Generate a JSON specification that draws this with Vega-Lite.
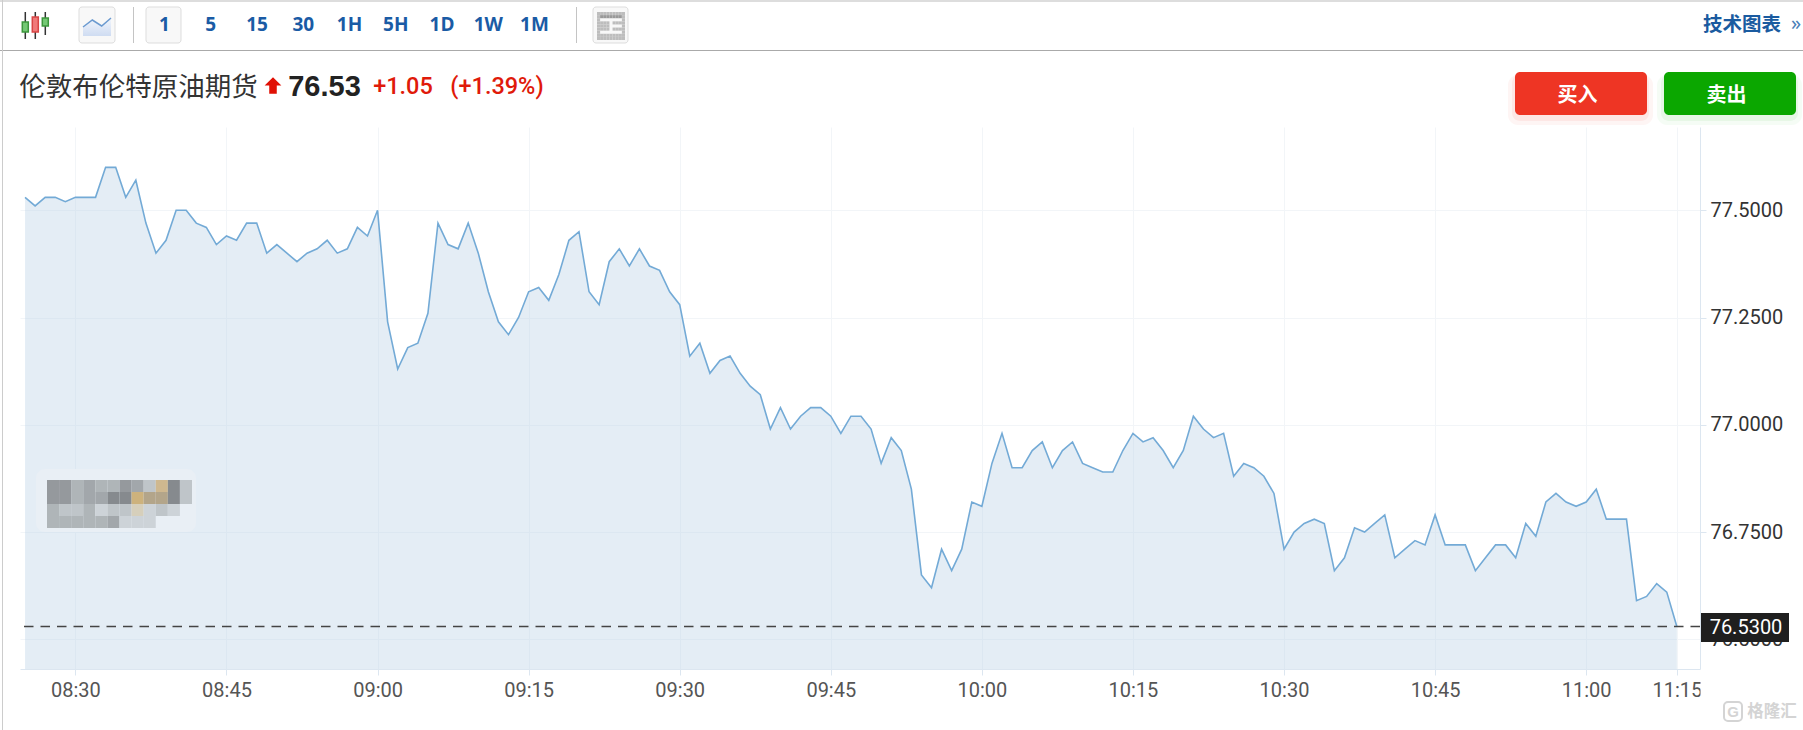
{"$schema":"https://vega.github.io/schema/vega-lite/v6.json","width":1680,"height":542,"autosize":"none","padding":{"left":20,"top":127,"right":103,"bottom":61},"background":"#ffffff","config":{"view":{"stroke":null}},"datasets":{"price":[{"time":"2024-01-01T08:25:00","price":77.53},{"time":"2024-01-01T08:26:00","price":77.51},{"time":"2024-01-01T08:27:00","price":77.53},{"time":"2024-01-01T08:28:00","price":77.53},{"time":"2024-01-01T08:29:00","price":77.52},{"time":"2024-01-01T08:30:00","price":77.53},{"time":"2024-01-01T08:31:00","price":77.53},{"time":"2024-01-01T08:32:00","price":77.53},{"time":"2024-01-01T08:33:00","price":77.6},{"time":"2024-01-01T08:34:00","price":77.6},{"time":"2024-01-01T08:35:00","price":77.53},{"time":"2024-01-01T08:36:00","price":77.57},{"time":"2024-01-01T08:37:00","price":77.47},{"time":"2024-01-01T08:38:00","price":77.4},{"time":"2024-01-01T08:39:00","price":77.43},{"time":"2024-01-01T08:40:00","price":77.5},{"time":"2024-01-01T08:41:00","price":77.5},{"time":"2024-01-01T08:42:00","price":77.47},{"time":"2024-01-01T08:43:00","price":77.46},{"time":"2024-01-01T08:44:00","price":77.42},{"time":"2024-01-01T08:45:00","price":77.44},{"time":"2024-01-01T08:46:00","price":77.43},{"time":"2024-01-01T08:47:00","price":77.47},{"time":"2024-01-01T08:48:00","price":77.47},{"time":"2024-01-01T08:49:00","price":77.4},{"time":"2024-01-01T08:50:00","price":77.42},{"time":"2024-01-01T08:51:00","price":77.4},{"time":"2024-01-01T08:52:00","price":77.38},{"time":"2024-01-01T08:53:00","price":77.4},{"time":"2024-01-01T08:54:00","price":77.41},{"time":"2024-01-01T08:55:00","price":77.43},{"time":"2024-01-01T08:56:00","price":77.4},{"time":"2024-01-01T08:57:00","price":77.41},{"time":"2024-01-01T08:58:00","price":77.46},{"time":"2024-01-01T08:59:00","price":77.44},{"time":"2024-01-01T09:00:00","price":77.5},{"time":"2024-01-01T09:01:00","price":77.24},{"time":"2024-01-01T09:02:00","price":77.13},{"time":"2024-01-01T09:03:00","price":77.18},{"time":"2024-01-01T09:04:00","price":77.19},{"time":"2024-01-01T09:05:00","price":77.26},{"time":"2024-01-01T09:06:00","price":77.47},{"time":"2024-01-01T09:07:00","price":77.42},{"time":"2024-01-01T09:08:00","price":77.41},{"time":"2024-01-01T09:09:00","price":77.47},{"time":"2024-01-01T09:10:00","price":77.4},{"time":"2024-01-01T09:11:00","price":77.31},{"time":"2024-01-01T09:12:00","price":77.24},{"time":"2024-01-01T09:13:00","price":77.21},{"time":"2024-01-01T09:14:00","price":77.25},{"time":"2024-01-01T09:15:00","price":77.31},{"time":"2024-01-01T09:16:00","price":77.32},{"time":"2024-01-01T09:17:00","price":77.29},{"time":"2024-01-01T09:18:00","price":77.35},{"time":"2024-01-01T09:19:00","price":77.43},{"time":"2024-01-01T09:20:00","price":77.45},{"time":"2024-01-01T09:21:00","price":77.31},{"time":"2024-01-01T09:22:00","price":77.28},{"time":"2024-01-01T09:23:00","price":77.38},{"time":"2024-01-01T09:24:00","price":77.41},{"time":"2024-01-01T09:25:00","price":77.37},{"time":"2024-01-01T09:26:00","price":77.41},{"time":"2024-01-01T09:27:00","price":77.37},{"time":"2024-01-01T09:28:00","price":77.36},{"time":"2024-01-01T09:29:00","price":77.31},{"time":"2024-01-01T09:30:00","price":77.28},{"time":"2024-01-01T09:31:00","price":77.16},{"time":"2024-01-01T09:32:00","price":77.19},{"time":"2024-01-01T09:33:00","price":77.12},{"time":"2024-01-01T09:34:00","price":77.15},{"time":"2024-01-01T09:35:00","price":77.16},{"time":"2024-01-01T09:36:00","price":77.12},{"time":"2024-01-01T09:37:00","price":77.09},{"time":"2024-01-01T09:38:00","price":77.07},{"time":"2024-01-01T09:39:00","price":76.99},{"time":"2024-01-01T09:40:00","price":77.04},{"time":"2024-01-01T09:41:00","price":76.99},{"time":"2024-01-01T09:42:00","price":77.02},{"time":"2024-01-01T09:43:00","price":77.04},{"time":"2024-01-01T09:44:00","price":77.04},{"time":"2024-01-01T09:45:00","price":77.02},{"time":"2024-01-01T09:46:00","price":76.98},{"time":"2024-01-01T09:47:00","price":77.02},{"time":"2024-01-01T09:48:00","price":77.02},{"time":"2024-01-01T09:49:00","price":76.99},{"time":"2024-01-01T09:50:00","price":76.91},{"time":"2024-01-01T09:51:00","price":76.97},{"time":"2024-01-01T09:52:00","price":76.94},{"time":"2024-01-01T09:53:00","price":76.85},{"time":"2024-01-01T09:54:00","price":76.65},{"time":"2024-01-01T09:55:00","price":76.62},{"time":"2024-01-01T09:56:00","price":76.71},{"time":"2024-01-01T09:57:00","price":76.66},{"time":"2024-01-01T09:58:00","price":76.71},{"time":"2024-01-01T09:59:00","price":76.82},{"time":"2024-01-01T10:00:00","price":76.81},{"time":"2024-01-01T10:01:00","price":76.91},{"time":"2024-01-01T10:02:00","price":76.98},{"time":"2024-01-01T10:03:00","price":76.9},{"time":"2024-01-01T10:04:00","price":76.9},{"time":"2024-01-01T10:05:00","price":76.94},{"time":"2024-01-01T10:06:00","price":76.96},{"time":"2024-01-01T10:07:00","price":76.9},{"time":"2024-01-01T10:08:00","price":76.94},{"time":"2024-01-01T10:09:00","price":76.96},{"time":"2024-01-01T10:10:00","price":76.91},{"time":"2024-01-01T10:11:00","price":76.9},{"time":"2024-01-01T10:12:00","price":76.89},{"time":"2024-01-01T10:13:00","price":76.89},{"time":"2024-01-01T10:14:00","price":76.94},{"time":"2024-01-01T10:15:00","price":76.98},{"time":"2024-01-01T10:16:00","price":76.96},{"time":"2024-01-01T10:17:00","price":76.97},{"time":"2024-01-01T10:18:00","price":76.94},{"time":"2024-01-01T10:19:00","price":76.9},{"time":"2024-01-01T10:20:00","price":76.94},{"time":"2024-01-01T10:21:00","price":77.02},{"time":"2024-01-01T10:22:00","price":76.99},{"time":"2024-01-01T10:23:00","price":76.97},{"time":"2024-01-01T10:24:00","price":76.98},{"time":"2024-01-01T10:25:00","price":76.88},{"time":"2024-01-01T10:26:00","price":76.91},{"time":"2024-01-01T10:27:00","price":76.9},{"time":"2024-01-01T10:28:00","price":76.88},{"time":"2024-01-01T10:29:00","price":76.84},{"time":"2024-01-01T10:30:00","price":76.71},{"time":"2024-01-01T10:31:00","price":76.75},{"time":"2024-01-01T10:32:00","price":76.77},{"time":"2024-01-01T10:33:00","price":76.78},{"time":"2024-01-01T10:34:00","price":76.77},{"time":"2024-01-01T10:35:00","price":76.66},{"time":"2024-01-01T10:36:00","price":76.69},{"time":"2024-01-01T10:37:00","price":76.76},{"time":"2024-01-01T10:38:00","price":76.75},{"time":"2024-01-01T10:39:00","price":76.77},{"time":"2024-01-01T10:40:00","price":76.79},{"time":"2024-01-01T10:41:00","price":76.69},{"time":"2024-01-01T10:42:00","price":76.71},{"time":"2024-01-01T10:43:00","price":76.73},{"time":"2024-01-01T10:44:00","price":76.72},{"time":"2024-01-01T10:45:00","price":76.79},{"time":"2024-01-01T10:46:00","price":76.72},{"time":"2024-01-01T10:47:00","price":76.72},{"time":"2024-01-01T10:48:00","price":76.72},{"time":"2024-01-01T10:49:00","price":76.66},{"time":"2024-01-01T10:50:00","price":76.69},{"time":"2024-01-01T10:51:00","price":76.72},{"time":"2024-01-01T10:52:00","price":76.72},{"time":"2024-01-01T10:53:00","price":76.69},{"time":"2024-01-01T10:54:00","price":76.77},{"time":"2024-01-01T10:55:00","price":76.74},{"time":"2024-01-01T10:56:00","price":76.82},{"time":"2024-01-01T10:57:00","price":76.84},{"time":"2024-01-01T10:58:00","price":76.82},{"time":"2024-01-01T10:59:00","price":76.81},{"time":"2024-01-01T11:00:00","price":76.82},{"time":"2024-01-01T11:01:00","price":76.85},{"time":"2024-01-01T11:02:00","price":76.78},{"time":"2024-01-01T11:03:00","price":76.78},{"time":"2024-01-01T11:04:00","price":76.78},{"time":"2024-01-01T11:05:00","price":76.59},{"time":"2024-01-01T11:06:00","price":76.6},{"time":"2024-01-01T11:07:00","price":76.63},{"time":"2024-01-01T11:08:00","price":76.61},{"time":"2024-01-01T11:09:00","price":76.53}],"mosaic":[{"c":0,"r":0,"v":"b"},{"c":1,"r":0,"v":"b"},{"c":2,"r":0,"v":"d"},{"c":3,"r":0,"v":"c"},{"c":4,"r":0,"v":"d"},{"c":5,"r":0,"v":"d"},{"c":6,"r":0,"v":"b"},{"c":7,"r":0,"v":"c"},{"c":8,"r":0,"v":"e"},{"c":9,"r":0,"v":"h"},{"c":10,"r":0,"v":"a"},{"c":11,"r":0,"v":"e"},{"c":0,"r":1,"v":"b"},{"c":1,"r":1,"v":"b"},{"c":2,"r":1,"v":"d"},{"c":3,"r":1,"v":"c"},{"c":4,"r":1,"v":"c"},{"c":5,"r":1,"v":"a"},{"c":6,"r":1,"v":"a"},{"c":7,"r":1,"v":"g"},{"c":8,"r":1,"v":"i"},{"c":9,"r":1,"v":"i"},{"c":10,"r":1,"v":"a"},{"c":11,"r":1,"v":"e"},{"c":0,"r":2,"v":"d"},{"c":1,"r":2,"v":"e"},{"c":2,"r":2,"v":"e"},{"c":3,"r":2,"v":"d"},{"c":4,"r":2,"v":"f"},{"c":5,"r":2,"v":"e"},{"c":6,"r":2,"v":"e"},{"c":7,"r":2,"v":"j"},{"c":8,"r":2,"v":"f"},{"c":9,"r":2,"v":"e"},{"c":10,"r":2,"v":"f"},{"c":0,"r":3,"v":"d"},{"c":1,"r":3,"v":"d"},{"c":2,"r":3,"v":"d"},{"c":3,"r":3,"v":"d"},{"c":4,"r":3,"v":"d"},{"c":5,"r":3,"v":"c"},{"c":6,"r":3,"v":"f"},{"c":7,"r":3,"v":"f"},{"c":8,"r":3,"v":"f"}]},"layer":[{"data":{"name":"price"},"layer":[{"mark":{"type":"area","fill":"#bcd2e5","fillOpacity":0.4,"line":false},"encoding":{"x":{"field":"time","type":"temporal","title":null,"scale":{"domain":[{"year":2024,"month":1,"date":1,"hours":8,"minutes":24,"seconds":30},{"year":2024,"month":1,"date":1,"hours":11,"minutes":11,"seconds":18}]},"axis":{"values":[{"year":2024,"month":1,"date":1,"hours":8,"minutes":30},{"year":2024,"month":1,"date":1,"hours":8,"minutes":45},{"year":2024,"month":1,"date":1,"hours":9,"minutes":0},{"year":2024,"month":1,"date":1,"hours":9,"minutes":15},{"year":2024,"month":1,"date":1,"hours":9,"minutes":30},{"year":2024,"month":1,"date":1,"hours":9,"minutes":45},{"year":2024,"month":1,"date":1,"hours":10,"minutes":0},{"year":2024,"month":1,"date":1,"hours":10,"minutes":15},{"year":2024,"month":1,"date":1,"hours":10,"minutes":30},{"year":2024,"month":1,"date":1,"hours":10,"minutes":45},{"year":2024,"month":1,"date":1,"hours":11,"minutes":0},{"year":2024,"month":1,"date":1,"hours":11,"minutes":9}],"labelExpr":"timeFormat(datum.value,'%H:%M')=='11:09'?'11:15':timeFormat(datum.value,'%H:%M')","labelFont":"Roboto","labelFontSize":20,"labelColor":"#555555","labelPadding":5,"labelAngle":0,"labelOverlap":false,"labelFlush":false,"tickSize":6,"tickColor":"#dce6f0","domainColor":"#dce6f0","grid":true,"gridColor":"#f2f5f8","gridWidth":1}},"y":{"field":"price","type":"quantitative","title":null,"scale":{"domain":[76.4308,77.694],"zero":false,"nice":false},"axis":{"orient":"right","values":[76.5,76.75,77,77.25,77.5],"format":".4f","labelFont":"Roboto","labelFontSize":20,"labelColor":"#333333","labelPadding":4,"tickSize":6,"tickColor":"#dce6f0","domainColor":"#dce6f0","grid":true,"gridColor":"#f2f5f8","gridWidth":1}},"y2":{"datum":76.4308}}},{"mark":{"type":"line","color":"#73aad6","strokeWidth":1.6},"encoding":{"x":{"field":"time","type":"temporal"},"y":{"field":"price","type":"quantitative"}}},{"data":{"values":[{"last":76.53}]},"mark":{"type":"rule","color":"#444444","strokeWidth":1.4,"strokeDash":[9.5,7]},"encoding":{"y":{"field":"last","type":"quantitative"}}}]},{"data":{"values":[{"patch":"halo"}]},"mark":{"type":"rect","color":"#e9eff5","cornerRadius":9},"encoding":{"x":{"field":"patch","type":"nominal","axis":null,"scale":{"type":"band","range":[16,176],"paddingInner":0,"paddingOuter":0}},"y":{"field":"patch","type":"nominal","axis":null,"scale":{"type":"band","range":[342,405],"paddingInner":0,"paddingOuter":0}}}},{"data":{"name":"mosaic"},"mark":{"type":"rect"},"encoding":{"x":{"field":"c","type":"nominal","axis":null,"scale":{"type":"band","range":[27,172],"paddingInner":0,"paddingOuter":0}},"y":{"field":"r","type":"nominal","axis":null,"scale":{"type":"band","range":[353,401],"paddingInner":0,"paddingOuter":0}},"color":{"field":"v","type":"nominal","legend":null,"scale":{"domain":["a","b","c","d","e","f","g","h","i","j"],"range":["#868a8e","#95999d","#a2a7ab","#afb5b8","#bfc5c9","#cdd3d8","#cdb27d","#cfb88f","#b3a58a","#d6cfbb"]}}}},{"data":{"values":[{"tag":"76.5300"}]},"mark":{"type":"rect","color":"#1f1f1f"},"encoding":{"x":{"field":"tag","type":"nominal","axis":null,"scale":{"type":"band","range":[1681,1769],"paddingInner":0,"paddingOuter":0}},"y":{"field":"tag","type":"nominal","axis":null,"scale":{"type":"band","range":[486,515],"paddingInner":0,"paddingOuter":0}}}},{"data":{"values":[{"t":"76.5300"}]},"mark":{"type":"text","font":"Roboto","fontSize":20,"color":"#ffffff"},"encoding":{"text":{"field":"t"},"x":{"field":"t","type":"nominal","axis":null,"scale":{"type":"point","range":[1726,1726]}},"y":{"field":"t","type":"nominal","axis":null,"scale":{"type":"point","range":[500.5,500.5]}}}},{"data":{"values":[{"patch":"edge"}]},"mark":{"type":"rect","color":"#ffffff"},"encoding":{"x":{"field":"patch","type":"nominal","axis":null,"scale":{"type":"band","range":[1680.5,1692],"paddingInner":0,"paddingOuter":0}},"y":{"field":"patch","type":"nominal","axis":null,"scale":{"type":"band","range":[551,577],"paddingInner":0,"paddingOuter":0}}}},{"data":{"values":[{"frame":"top"}]},"mark":{"type":"rect","color":"#dddddd"},"encoding":{"x":{"field":"frame","type":"nominal","axis":null,"scale":{"type":"band","range":[-20,1783],"paddingInner":0,"paddingOuter":0}},"y":{"field":"frame","type":"nominal","axis":null,"scale":{"type":"band","range":[-127,-125],"paddingInner":0,"paddingOuter":0}}}},{"data":{"values":[{"frame":"header"}]},"mark":{"type":"rect","color":"#aaaaaa"},"encoding":{"x":{"field":"frame","type":"nominal","axis":null,"scale":{"type":"band","range":[-20,1783],"paddingInner":0,"paddingOuter":0}},"y":{"field":"frame","type":"nominal","axis":null,"scale":{"type":"band","range":[-77,-76],"paddingInner":0,"paddingOuter":0}}}},{"data":{"values":[{"frame":"left"}]},"mark":{"type":"rect","color":"#cccccc"},"encoding":{"x":{"field":"frame","type":"nominal","axis":null,"scale":{"type":"band","range":[-18,-17],"paddingInner":0,"paddingOuter":0}},"y":{"field":"frame","type":"nominal","axis":null,"scale":{"type":"band","range":[-127,603],"paddingInner":0,"paddingOuter":0}}}},{"data":{"values":[{"box":"line"}]},"mark":{"type":"rect","fill":"#f8f8f8","stroke":"#dddddd","cornerRadius":3},"encoding":{"x":{"field":"box","type":"nominal","axis":null,"scale":{"type":"band","range":[59,95],"paddingInner":0,"paddingOuter":0}},"y":{"field":"box","type":"nominal","axis":null,"scale":{"type":"band","range":[-120,-84],"paddingInner":0,"paddingOuter":0}}}},{"data":{"values":[{"box":"active"}]},"mark":{"type":"rect","fill":"#f8f8f8","stroke":"#dddddd","cornerRadius":3},"encoding":{"x":{"field":"box","type":"nominal","axis":null,"scale":{"type":"band","range":[126,161],"paddingInner":0,"paddingOuter":0}},"y":{"field":"box","type":"nominal","axis":null,"scale":{"type":"band","range":[-120,-84],"paddingInner":0,"paddingOuter":0}}}},{"data":{"values":[{"box":"report"}]},"mark":{"type":"rect","fill":"#f8f8f8","stroke":"#dddddd","cornerRadius":3},"encoding":{"x":{"field":"box","type":"nominal","axis":null,"scale":{"type":"band","range":[573,608],"paddingInner":0,"paddingOuter":0}},"y":{"field":"box","type":"nominal","axis":null,"scale":{"type":"band","range":[-120,-84],"paddingInner":0,"paddingOuter":0}}}},{"data":{"values":[{"sep":"a","row":"s"},{"sep":"b","row":"s"}]},"mark":{"type":"rect","color":"#c4c4c4"},"encoding":{"x":{"field":"sep","type":"nominal","axis":null,"scale":{"type":"band","range":[113,557],"paddingInner":0.99774,"paddingOuter":0}},"y":{"field":"row","type":"nominal","axis":null,"scale":{"type":"band","range":[-120,-84],"paddingInner":0,"paddingOuter":0}}}},{"data":{"values":[{"candle":"c1","kind":"up","low":39,"high":12,"open":32,"close":22},{"candle":"c2","kind":"down","low":39,"high":12,"open":32,"close":17},{"candle":"c3","kind":"up","low":35,"high":12,"open":26,"close":18}]},"layer":[{"mark":{"type":"rule","color":"#333333","strokeWidth":1.5},"encoding":{"x":{"field":"candle","type":"nominal","axis":null,"scale":{"type":"band","range":[2.3,28.3],"paddingInner":0.4,"paddingOuter":0}},"y":{"field":"low","type":"quantitative","axis":null,"scale":{"domain":[0,50],"range":[-127,-77]}},"y2":{"field":"high"}}},{"mark":{"type":"rect","strokeWidth":1.5},"encoding":{"x":{"field":"candle","type":"nominal","axis":null},"y":{"field":"open","type":"quantitative","axis":null},"y2":{"field":"close"},"fill":{"field":"kind","type":"nominal","legend":null,"scale":{"domain":["up","down"],"range":["#74c874","#f07a7a"]}},"stroke":{"field":"kind","type":"nominal","legend":null,"scale":{"domain":["up","down"],"range":["#3c963c","#d84545"]}}}}]},{"data":{"values":[{"step":0,"level":9},{"step":1,"level":16},{"step":2,"level":10},{"step":3,"level":18}]},"layer":[{"mark":{"type":"area","color":{"gradient":"linear","x1":1,"y1":1,"x2":1,"y2":0,"stops":[{"offset":0,"color":"#cfdcf2"},{"offset":1,"color":"#f2f6fc"}]}},"encoding":{"x":{"field":"step","type":"quantitative","axis":null,"scale":{"domain":[0,3],"range":[63,91]}},"y":{"field":"level","type":"quantitative","axis":null,"scale":{"domain":[0,18],"range":[-91,-109]}}}},{"mark":{"type":"line","color":"#6b9ad0","strokeWidth":1.5},"encoding":{"x":{"field":"step","type":"quantitative"},"y":{"field":"level","type":"quantitative"}}}]},{"data":{"values":[{"c":0,"r":0,"v":"f"},{"c":1,"r":0,"v":"f"},{"c":2,"r":0,"v":"f"},{"c":3,"r":0,"v":"f"},{"c":4,"r":0,"v":"f"},{"c":5,"r":0,"v":"f"},{"c":6,"r":0,"v":"f"},{"c":7,"r":0,"v":"f"},{"c":8,"r":0,"v":"f"},{"c":0,"r":1,"v":"f"},{"c":1,"r":1,"v":"h"},{"c":2,"r":1,"v":"h"},{"c":3,"r":1,"v":"h"},{"c":4,"r":1,"v":"h"},{"c":5,"r":1,"v":"h"},{"c":6,"r":1,"v":"h"},{"c":7,"r":1,"v":"h"},{"c":8,"r":1,"v":"f"},{"c":0,"r":2,"v":"f"},{"c":8,"r":2,"v":"f"},{"c":0,"r":3,"v":"f"},{"c":1,"r":3,"v":"f"},{"c":2,"r":3,"v":"f"},{"c":3,"r":3,"v":"f"},{"c":5,"r":3,"v":"f"},{"c":6,"r":3,"v":"f"},{"c":7,"r":3,"v":"f"},{"c":8,"r":3,"v":"f"},{"c":0,"r":4,"v":"f"},{"c":1,"r":4,"v":"f"},{"c":2,"r":4,"v":"f"},{"c":3,"r":4,"v":"f"},{"c":8,"r":4,"v":"f"},{"c":0,"r":5,"v":"f"},{"c":1,"r":5,"v":"f"},{"c":2,"r":5,"v":"f"},{"c":3,"r":5,"v":"f"},{"c":5,"r":5,"v":"f"},{"c":6,"r":5,"v":"f"},{"c":7,"r":5,"v":"f"},{"c":8,"r":5,"v":"f"},{"c":0,"r":6,"v":"f"},{"c":8,"r":6,"v":"f"},{"c":0,"r":7,"v":"f"},{"c":1,"r":7,"v":"f"},{"c":2,"r":7,"v":"f"},{"c":3,"r":7,"v":"f"},{"c":4,"r":7,"v":"f"},{"c":5,"r":7,"v":"f"},{"c":6,"r":7,"v":"f"},{"c":7,"r":7,"v":"f"},{"c":8,"r":7,"v":"f"},{"c":0,"r":8,"v":"f"},{"c":1,"r":8,"v":"f"},{"c":2,"r":8,"v":"f"},{"c":3,"r":8,"v":"f"},{"c":4,"r":8,"v":"f"},{"c":5,"r":8,"v":"f"},{"c":6,"r":8,"v":"f"},{"c":7,"r":8,"v":"f"},{"c":8,"r":8,"v":"f"}]},"mark":{"type":"rect"},"encoding":{"x":{"field":"c","type":"nominal","axis":null,"scale":{"type":"band","range":[577,605],"paddingInner":0,"paddingOuter":0}},"y":{"field":"r","type":"nominal","axis":null,"scale":{"type":"band","range":[-115,-87],"paddingInner":0,"paddingOuter":0}},"color":{"field":"v","type":"nominal","legend":null,"scale":{"domain":["f","h"],"range":["#bdbdbd","#999999"]}}}},{"data":{"values":[{"t":"1"},{"t":"5"},{"t":"15"},{"t":"30"},{"t":"1H"},{"t":"5H"},{"t":"1D"},{"t":"1W"},{"t":"1M"}]},"mark":{"type":"text","font":"Open Sans","fontSize":19,"fontWeight":"bold","color":"#1a5ba5"},"encoding":{"text":{"field":"t"},"x":{"field":"t","type":"nominal","sort":null,"axis":null,"scale":{"type":"point","range":[144.5,514.5],"padding":0}},"y":{"field":"row","type":"nominal","axis":null,"scale":{"type":"point","range":[-102,-102]}}}},{"data":{"values":[{"t":"技术图表"}]},"mark":{"type":"text","font":"Noto Sans CJK SC","fontSize":19.5,"fontWeight":"bold","color":"#1a5ba0"},"encoding":{"text":{"field":"t"},"x":{"field":"t","type":"nominal","axis":null,"scale":{"type":"point","range":[1722,1722]}},"y":{"field":"t","type":"nominal","axis":null,"scale":{"type":"point","range":[-102,-102]}}}},{"data":{"values":[{"t":"»"}]},"mark":{"type":"text","font":"Noto Sans","fontSize":20,"color":"#4a7fb8"},"encoding":{"text":{"field":"t"},"x":{"field":"t","type":"nominal","axis":null,"scale":{"type":"point","range":[1776,1776]}},"y":{"field":"t","type":"nominal","axis":null,"scale":{"type":"point","range":[-103,-103]}}}},{"data":{"values":[{"t":"伦敦布伦特原油期货"}]},"mark":{"type":"text","font":"Noto Sans CJK SC","fontSize":26.5,"color":"#333333"},"encoding":{"text":{"field":"t"},"x":{"field":"t","type":"nominal","axis":null,"scale":{"type":"point","range":[118.5,118.5]}},"y":{"field":"t","type":"nominal","axis":null,"scale":{"type":"point","range":[-39,-39]}}}},{"data":{"values":[{"dir":"up"}]},"mark":{"type":"point","shape":"M0,-1 L1,0 L0.45,0 L0.45,1 L-0.45,1 L-0.45,0 L-1,0 Z","size":280,"filled":true,"fill":"#e01005","opacity":1},"encoding":{"x":{"field":"dir","type":"nominal","axis":null,"scale":{"type":"point","range":[253,253]}},"y":{"field":"dir","type":"nominal","axis":null,"scale":{"type":"point","range":[-41.5,-41.5]}}}},{"data":{"values":[{"t":"76.53"}]},"mark":{"type":"text","font":"Liberation Sans","fontSize":29,"fontWeight":"bold","color":"#222222"},"encoding":{"text":{"field":"t"},"x":{"field":"t","type":"nominal","axis":null,"scale":{"type":"point","range":[304.5,304.5]}},"y":{"field":"t","type":"nominal","axis":null,"scale":{"type":"point","range":[-40,-40]}}}},{"data":{"values":[{"t":"+1.05"}]},"mark":{"type":"text","font":"Roboto","fontSize":23.5,"fontWeight":500,"color":"#e01a0a"},"encoding":{"text":{"field":"t"},"x":{"field":"t","type":"nominal","axis":null,"scale":{"type":"point","range":[383,383]}},"y":{"field":"t","type":"nominal","axis":null,"scale":{"type":"point","range":[-40,-40]}}}},{"data":{"values":[{"t":"(+1.39%)"}]},"mark":{"type":"text","font":"Roboto","fontSize":23.5,"fontWeight":500,"color":"#e01a0a"},"encoding":{"text":{"field":"t"},"x":{"field":"t","type":"nominal","axis":null,"scale":{"type":"point","range":[477,477]}},"y":{"field":"t","type":"nominal","axis":null,"scale":{"type":"point","range":[-40,-40]}}}},{"data":{"values":[{"action":"买入","row":"交易"}]},"mark":{"type":"rect","color":"#ee3524","opacity":0.05,"cornerRadius":10},"encoding":{"x":{"field":"action","type":"nominal","axis":null,"scale":{"type":"band","range":[1488,1633],"paddingInner":0,"paddingOuter":0}},"y":{"field":"row","type":"nominal","axis":null,"scale":{"type":"band","range":[-52,-2],"paddingInner":0,"paddingOuter":0}}}},{"data":{"values":[{"action":"买入","row":"交易"}]},"mark":{"type":"rect","color":"#ee3524","opacity":0.07,"cornerRadius":8},"encoding":{"x":{"field":"action","type":"nominal","axis":null,"scale":{"type":"band","range":[1492,1629],"paddingInner":0,"paddingOuter":0}},"y":{"field":"row","type":"nominal","axis":null,"scale":{"type":"band","range":[-52,-6],"paddingInner":0,"paddingOuter":0}}}},{"data":{"values":[{"action":"卖出","row":"交易"}]},"mark":{"type":"rect","color":"#0ba700","opacity":0.04,"cornerRadius":10},"encoding":{"x":{"field":"action","type":"nominal","axis":null,"scale":{"type":"band","range":[1637,1782],"paddingInner":0,"paddingOuter":0}},"y":{"field":"row","type":"nominal","axis":null,"scale":{"type":"band","range":[-52,-2],"paddingInner":0,"paddingOuter":0}}}},{"data":{"values":[{"action":"卖出","row":"交易"}]},"mark":{"type":"rect","color":"#0ba700","opacity":0.06,"cornerRadius":8},"encoding":{"x":{"field":"action","type":"nominal","axis":null,"scale":{"type":"band","range":[1641,1778],"paddingInner":0,"paddingOuter":0}},"y":{"field":"row","type":"nominal","axis":null,"scale":{"type":"band","range":[-52,-6],"paddingInner":0,"paddingOuter":0}}}},{"data":{"values":[{"action":"买入","row":"交易"},{"action":"卖出","row":"交易"}]},"mark":{"type":"rect","cornerRadius":5},"encoding":{"x":{"field":"action","type":"nominal","sort":null,"axis":null,"scale":{"type":"band","range":[1495,1776],"paddingInner":0.114,"paddingOuter":0}},"y":{"field":"row","type":"nominal","axis":null,"scale":{"type":"band","range":[-55,-12],"paddingInner":0,"paddingOuter":0}},"color":{"field":"action","type":"nominal","legend":null,"scale":{"domain":["买入","卖出"],"range":["#ee3524","#0ba700"]}}}},{"data":{"values":[{"action":"买入","row":"交易"},{"action":"卖出","row":"交易"}]},"mark":{"type":"text","font":"Noto Sans CJK SC","fontSize":20,"fontWeight":"bold","color":"#ffffff"},"encoding":{"text":{"field":"action"},"x":{"field":"action","type":"nominal","sort":null,"axis":null,"scale":{"type":"band","range":[1491.5,1772.5],"paddingInner":0.114,"paddingOuter":0}},"y":{"field":"row","type":"nominal","axis":null,"scale":{"type":"band","range":[-53,-10],"paddingInner":0,"paddingOuter":0}}}},{"data":{"values":[{"t":"格隆汇"}]},"mark":{"type":"text","font":"Noto Sans CJK SC","fontSize":16.5,"fontWeight":"bold","color":"#d4d4d4"},"encoding":{"text":{"field":"t"},"x":{"field":"t","type":"nominal","axis":null,"scale":{"type":"point","range":[1752,1752]}},"y":{"field":"t","type":"nominal","axis":null,"scale":{"type":"point","range":[584.5,584.5]}}}},{"data":{"values":[{"logo":"box"}]},"mark":{"type":"rect","fill":null,"stroke":"#d4d4d4","strokeWidth":2,"cornerRadius":4},"encoding":{"x":{"field":"logo","type":"nominal","axis":null,"scale":{"type":"band","range":[1704,1722],"paddingInner":0,"paddingOuter":0}},"y":{"field":"logo","type":"nominal","axis":null,"scale":{"type":"band","range":[575,594],"paddingInner":0,"paddingOuter":0}}}},{"data":{"values":[{"t":"G"}]},"mark":{"type":"text","font":"Liberation Sans","fontSize":15,"fontWeight":"bold","color":"#d4d4d4"},"encoding":{"text":{"field":"t"},"x":{"field":"t","type":"nominal","axis":null,"scale":{"type":"point","range":[1713,1713]}},"y":{"field":"t","type":"nominal","axis":null,"scale":{"type":"point","range":[584.5,584.5]}}}}],"resolve":{"scale":{"x":"independent","y":"independent","color":"independent","fill":"independent","stroke":"independent"},"axis":{"x":"independent","y":"independent"}}}
